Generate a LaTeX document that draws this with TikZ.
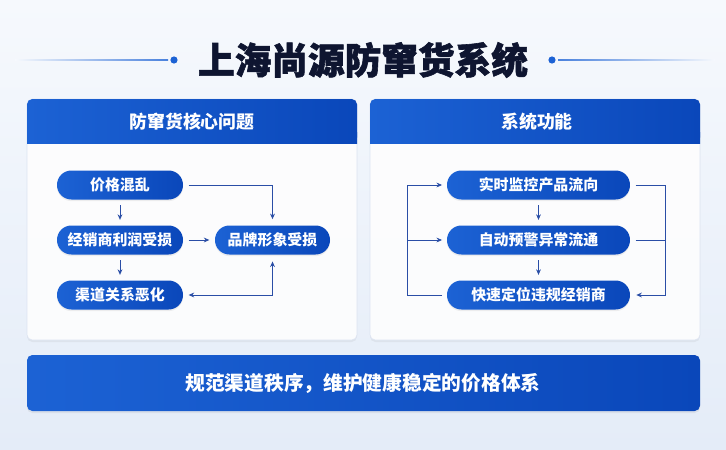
\documentclass[tikz,border=0pt]{standalone}
\usepackage{fontspec}
\newfontfamily\cjk{Noto Sans CJK SC}
\newfontfamily\cjktitle[BoldFeatures={FakeBold=1.6}]{Noto Sans CJK SC}
\usepackage{tikz}
\usetikzlibrary{arrows.meta,positioning,calc,shadows}
\definecolor{bgtop}{HTML}{F6F9FD}
\definecolor{bgbot}{HTML}{E4ECF8}
\definecolor{blueL}{HTML}{1C62D4}
\definecolor{blueR}{HTML}{0A47BA}
\definecolor{arrblue}{HTML}{2A4EA6}
\definecolor{titleink}{HTML}{0E1530}
\definecolor{panelrim}{HTML}{DCE4F2}
\tikzset{
  panel/.style   = {fill=white,fill opacity=0.9,draw=panelrim,line width=0.4pt,
                    rounded corners=4pt,
                    drop shadow={opacity=0.10,shadow xshift=0pt,shadow yshift=-1.5pt}},
  hdr/.style     = {left color=blueL,right color=blueR,rounded corners=4pt},
  hdrtxt/.style  = {font=\cjk\bfseries\fontsize{13.4}{15}\selectfont,text=white},
  pill/.style    = {left color=blueL,right color=blueR,rounded corners=10.8pt,
                    minimum height=21.75pt,inner sep=0pt,text=white,
                    font=\cjk\bfseries\fontsize{11.2}{13}\selectfont,
                    drop shadow={opacity=0.12,shadow xshift=0pt,shadow yshift=-1.2pt}},
  arr/.style     = {-{Stealth[length=4.2pt,width=3.6pt]},draw=arrblue,line width=0.7pt},
  dbl/.style     = {{Stealth[length=4.2pt,width=3.6pt]}-{Stealth[length=4.2pt,width=3.6pt]},
                    draw=arrblue,line width=0.7pt},
  wire/.style    = {draw=arrblue,line width=0.7pt},
}

\begin{document}
\begin{tikzpicture}[x=0.75pt,y=-0.75pt]
  \useasboundingbox (0,0) rectangle (726,450);
  % Background
  \shade[top color=bgtop,bottom color=bgbot] (0,0) rectangle (726,450);

  % Title with side rules
  \node[font=\cjktitle\bfseries\fontsize{27.5}{30}\selectfont,text=titleink] (title) at (363,60)
      {上海尚源防窜货系统};
  \shade[left color=bgtop,right color=blueL!80] (15,59.2) rectangle (168,60.8);
  \shade[left color=blueL!80,right color=bgtop] (558,59.2) rectangle (715,60.8);
  \fill[blueL] (174,60) circle (2.7pt);
  \fill[blueL] (552,60) circle (2.7pt);

  % Panels
  \path[panel] (27,99) rectangle (357,340);
  \path[panel] (370,99) rectangle (700,340);
  \shade[hdr] (27,99) rectangle (357,143);
  \shade[left color=blueL,right color=blueR] (27,132) rectangle (357,143);
  \shade[hdr] (370,99) rectangle (700,143);
  \shade[left color=blueL,right color=blueR] (370,132) rectangle (700,143);
  \node[hdrtxt] (hdrA) at (192,122) {防窜货核心问题};
  \node[hdrtxt] (hdrB) at (537,122) {系统功能};

  % ---- Left panel: problems ----
  \node[pill,minimum width=94.5pt] (price)   at (120,185) {价格混乱};
  \node[pill,minimum width=94.5pt] (profit)  at (120,240) {经销商利润受损};
  \node[pill,minimum width=94.5pt] (channel) at (120,295) {渠道关系恶化};
  \node[pill,minimum width=86.25pt] (brand)  at (272.5,240) {品牌形象受损};

  \draw[arr,shorten <=4pt,shorten >=4pt] (price) -- (profit);
  \draw[arr,shorten <=4pt,shorten >=4pt] (profit) -- (channel);
  \draw[arr,shorten <=4pt,shorten >=4pt] (profit) -- (brand);
  \draw[arr,shorten <=4pt,shorten >=4.5pt] (price.east) -| (brand.north);
  \draw[dbl,shorten <=4pt,shorten >=5pt] (channel.east) -| (brand.south);

  % ---- Right panel: functions ----
  \node[pill,minimum width=137.25pt] (monitor) at (538.5,185) {实时监控产品流向};
  \node[pill,minimum width=137.25pt] (warn)    at (538.5,240) {自动预警异常流通};
  \node[pill,minimum width=137.25pt] (locate)  at (538.5,295) {快速定位违规经销商};

  \draw[arr,shorten <=4pt,shorten >=4pt] (monitor) -- (warn);
  \draw[arr,shorten <=4pt,shorten >=4pt] (warn) -- (locate);
  % left loop
  \draw[arr,shorten <=3.5pt,shorten >=3.5pt] (locate.west) -- ++(-39,0)
      coordinate (lcorner) |- (monitor.west);
  \draw[arr,shorten >=3.5pt] (lcorner |- warn) -- (warn.west);
  % right loop
  \draw[arr,shorten <=4pt,shorten >=4.5pt] (monitor.east) -- ++(35,0)
      coordinate (rcorner) |- (locate.east);
  \draw[wire,shorten <=4pt] (warn.east) -- (rcorner |- warn);

  % Goal banner
  \shade[left color=blueL,right color=blueR,rounded corners=4pt,
         drop shadow={opacity=0.12,shadow xshift=0pt,shadow yshift=-1.5pt}]
      (27,355) rectangle (700,411);
  \node[font=\cjk\bfseries\fontsize{14.8}{17}\selectfont,text=white] (goal) at (363,383)
      {规范渠道秩序，维护健康稳定的价格体系};
\end{tikzpicture}
\end{document}
